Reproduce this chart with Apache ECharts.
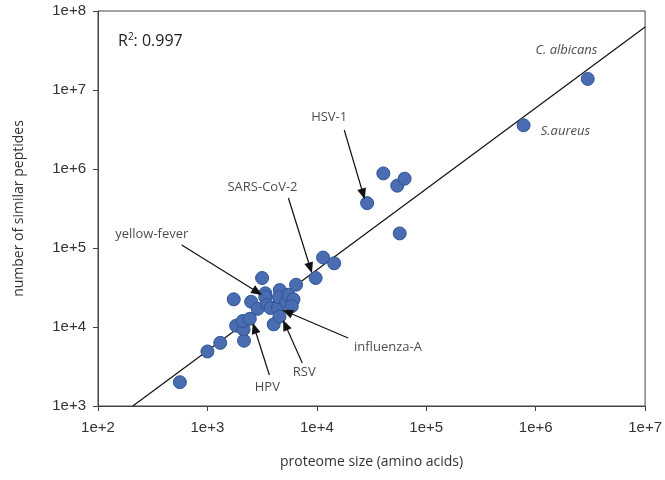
<!DOCTYPE html>
<html>
<head>
<meta charset="utf-8">
<script src="https://cdn.jsdelivr.net/npm/echarts@6/dist/echarts.min.js"></script>
<style>
  html, body { margin: 0; padding: 0; background: #fff; }
  #chart { width: 665px; height: 480px; }
</style>
</head>
<body>
<div id="chart"></div>
<script>
// proteome size (amino acids) vs number of similar peptides
const proteomeSize = [560, 1000, 1310, 2160, 1830, 2140, 2100, 2440, 1740, 2510, 2880, 3160, 3380, 3380,
  3500, 3770, 4400, 4030, 4550, 4580, 4500, 5240, 5500, 6120, 5900, 6460, 9750, 11400, 14400,
  28800, 40500, 54300, 63400, 57200, 775000, 2990000]
const similarPeptides = [2000, 4900, 6300, 6700, 10400, 9300, 11900, 12700, 22400, 20900, 17000, 41700, 26700, 23800,
  19000, 17400, 17400, 10800, 13500, 29400, 23800, 20900, 25600, 22300, 18300, 34300, 41700, 75800, 64000,
  370000, 880000, 615000, 754000, 153000, 3580000, 13800000]

// fitted line end points
const fitX = [208, 10000000]
const fitY = [1000, 62700000]

// annotations: label, label position, arrow start, arrow end
const labelNames = ['HSV-1', 'SARS-CoV-2', 'yellow-fever', 'influenza-A', 'RSV', 'HPV', 'C. albicans', 'S.aureus']
const labelPos = [[12970, 4550000], [3185, 592000], [310, 150000], [44700, 5580], [7670, 2700], [3530, 1740],
  [1910000, 32100000], [1870000, 3030000]]
const arrowFrom = [[17800, 3120000], [5500, 430000], [582, 109000], [19300, 7260], [7360, 3500], [3680, 2470]]
const arrowTo = [[26500, 483000], [8710, 55800], [2860, 27700], [5370, 15500], [5150, 10600], [2690, 9700]]

const chart = echarts.init(document.getElementById('chart'))

const tickFmt = v => '1e+' + Math.round(Math.log10(v))
const axisColor = '#444'

const option = {
  animation: false,
  title: {
    left: 113, top: 27,
    text: '{a|R}{sup|2}{a|: 0.997}',
    textStyle: {
      fontWeight: 'normal',
      rich: {
        a: { fontFamily: 'Open Sans', fontSize: 16, fontWeight: 'normal', color: '#222' },
        sup: { fontFamily: 'Open Sans', fontSize: 10, fontWeight: 'normal', color: '#222', verticalAlign: 'top', padding: [0, 0, 8, 0] }
      }
    }
  },
  grid: {
    left: 98, right: 18, top: 11, bottom: 74,
    show: true, borderColor: axisColor, borderWidth: 1
  },
  xAxis: {
    type: 'log', logBase: 10, min: 100, max: 10000000,
    name: 'proteome size (amino acids)', nameLocation: 'middle', nameGap: 49,
    nameTextStyle: { fontFamily: 'Open Sans', fontSize: 14, color: '#333' },
    axisLine: { show: true, lineStyle: { color: axisColor } },
    axisTick: { show: true, length: 5, lineStyle: { color: axisColor } },
    minorTick: { show: false },
    splitLine: { show: false },
    axisLabel: { formatter: tickFmt, fontFamily: 'Liberation Sans', fontSize: 15, color: '#333', margin: 14 }
  },
  yAxis: {
    type: 'log', logBase: 10, min: 1000, max: 100000000,
    name: 'number of similar peptides', nameLocation: 'middle', nameGap: 72,
    nameTextStyle: { fontFamily: 'Open Sans', fontSize: 14, color: '#333' },
    axisLine: { show: true, lineStyle: { color: axisColor } },
    axisTick: { show: true, length: 5, lineStyle: { color: axisColor } },
    splitLine: { show: false },
    axisLabel: { formatter: tickFmt, fontFamily: 'Liberation Sans', fontSize: 15, color: '#333', margin: 12 }
  },
  series: [
    {
      name: 'fit',
      type: 'line',
      data: fitX.map((x, i) => [x, fitY[i]]),
      symbol: 'none',
      lineStyle: { color: '#111', width: 1.2 },
      silent: true,
      z: 1
    },
    {
      name: 'proteomes',
      type: 'scatter',
      data: proteomeSize.map((x, i) => [x, similarPeptides[i]]),
      symbolSize: 13,
      itemStyle: { color: '#4a6cb0', borderColor: '#2f5597', borderWidth: 1, opacity: 1 },
      z: 3
    },
    {
      name: 'labels',
      type: 'scatter',
      data: labelPos.map((p, i) => ({ value: p, name: labelNames[i] })),
      symbolSize: 0,
      silent: true,
      label: {
        show: true, position: 'inside', formatter: '{b}',
        fontFamily: 'Open Sans', fontSize: 13, color: '#1a1a1a',
        fontStyle: 'normal'
      },
      labelLayout: { hideOverlap: false },
      markLine: {
        silent: true,
        symbol: ['none', 'triangle'],
        symbolSize: [9, 11],
        label: { show: false },
        lineStyle: { color: '#111', width: 1.2, type: 'solid' },
        data: arrowFrom.map((p, i) => [{ coord: p }, { coord: arrowTo[i] }])
      },
      z: 4
    }
  ]
}

// species names in italics
option.series[2].data.forEach(d => {
  if (d.name === 'C. albicans' || d.name === 'S.aureus') {
    d.label = { fontStyle: 'italic' }
  }
})

chart.setOption(option)
window.addEventListener('resize', () => {
  chart.resize()
})
</script>
</body>
</html>
